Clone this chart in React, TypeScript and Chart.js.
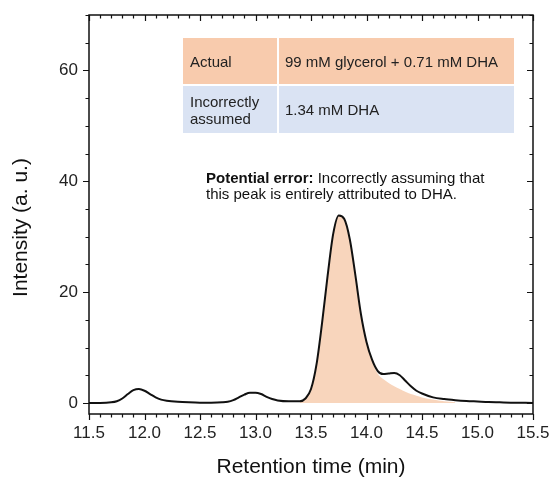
import React, { useEffect, useRef } from "react";
import { Chart, registerables } from "chart.js";

Chart.register(...registerables);

// Chromatogram (measured signal)
const times: number[] = [
  11.5, 11.6, 11.7, 11.75, 11.8, 11.85, 11.9, 11.95, 12.0, 12.05, 12.1, 12.15, 12.2, 12.3, 12.4, 12.5,
  12.6, 12.7, 12.75, 12.8, 12.85, 12.9, 12.95, 13.0, 13.05, 13.1, 13.15, 13.2, 13.3, 13.4, 13.45, 13.5,
  13.55, 13.6, 13.65, 13.7, 13.75, 13.8, 13.85, 13.9, 13.95, 14.0, 14.05, 14.1, 14.15, 14.2, 14.25, 14.3,
  14.35, 14.4, 14.45, 14.5, 14.6, 14.7, 14.8, 14.9, 15.0, 15.1, 15.2, 15.3, 15.5,
];
const intensity: number[] = [
  0.0, 0.0, 0.1, 0.3, 0.8, 1.6, 2.3, 2.5, 2.2, 1.6, 1.0, 0.6, 0.4, 0.2, 0.1, 0.05,
  0.05, 0.1, 0.2, 0.5, 1.0, 1.5, 1.85, 1.85, 1.6, 1.1, 0.7, 0.45, 0.3, 0.3, 0.8, 2.5,
  7.0, 14.5, 23.0, 30.5, 33.8, 33.2, 29.5, 23.0, 16.0, 11.0, 7.8, 5.8, 5.2, 5.3, 5.4, 5.0,
  4.0, 3.0, 2.2, 1.7, 1.0, 0.7, 0.5, 0.35, 0.25, 0.15, 0.1, 0.05, 0.0,
];

// Shaded DHA-only peak
const dhaTimes: number[] = [
  13.4, 13.45, 13.5, 13.55, 13.6, 13.65, 13.7, 13.75, 13.8, 13.85, 13.9, 13.95, 14.0, 14.05, 14.1,
  14.15, 14.2, 14.25, 14.3, 14.35, 14.4, 14.45, 14.5, 14.6, 14.7, 14.8,
];
const dhaIntensity: number[] = [
  0.3, 0.8, 2.5, 7.0, 14.5, 23.0, 30.5, 33.8, 33.2, 29.5, 23.0, 16.0, 11.0, 7.6, 5.3,
  4.3, 3.6, 3.0, 2.5, 2.0, 1.6, 1.3, 1.0, 0.6, 0.3, 0.1,
];

const yTickValues: number[] = [0, 20, 40, 60];
const xRange: number[] = [11.5, 15.5];
const yRange: number[] = [-2, 70];
const xMinorStep = 0.1;
const xMajorStep = 0.5;
const yMinorStep = 5;
const yMajorStep = 20;
const yTitle = "Intensity (a. u.)";
const xTitle = "Retention time (min)";

const FONT = "'Liberation Sans', Arial, sans-serif";

const frameTicks = {
  id: "frameTicks",
  afterDraw(chart: any) {
    const { ctx, chartArea: a, scales } = chart;
    const x = scales.x;
    const y = scales.y;
    ctx.save();
    ctx.strokeStyle = "#111";
    ctx.lineWidth = 1.5;
    ctx.strokeRect(a.left, a.top, a.right - a.left, a.bottom - a.top);
    ctx.lineWidth = 1.2;
    ctx.beginPath();
    const nx = Math.round((xRange[1] - xRange[0]) / xMinorStep);
    for (let i = 0; i <= nx; i++) {
      const v = xRange[0] + i * xMinorStep;
      const major = i % Math.round(xMajorStep / xMinorStep) === 0;
      const len = major ? 6 : 3.5;
      const px = Math.round(x.getPixelForValue(v)) + 0.5;
      ctx.moveTo(px, a.bottom);
      ctx.lineTo(px, a.bottom + len);
      ctx.moveTo(px, a.top);
      ctx.lineTo(px, a.top + len);
    }
    for (let v = 0; v <= yRange[1]; v += yMinorStep) {
      const major = v % yMajorStep === 0;
      const len = major ? 6 : 3.5;
      const py = Math.round(y.getPixelForValue(v)) + 0.5;
      ctx.moveTo(a.left - len, py);
      ctx.lineTo(a.left, py);
      ctx.moveTo(a.right - len, py);
      ctx.lineTo(a.right, py);
    }
    ctx.stroke();

    // y-axis title (slightly below the axis centre, as in the figure)
    ctx.translate(21, (a.top + a.bottom) / 2 + 13);
    ctx.rotate(-Math.PI / 2);
    ctx.fillStyle = "#111";
    ctx.font = `21px ${FONT}`;
    ctx.textAlign = "center";
    ctx.textBaseline = "middle";
    ctx.fillText(yTitle, 0, 0);
    ctx.restore();
  },
};

export default function App() {
  const ref = useRef<HTMLCanvasElement | null>(null);

  useEffect(() => {
    if (!ref.current) return;
    const chart = new Chart(ref.current, {
      type: "line",
      data: {
        datasets: [
          {
            label: "Signal",
            data: times.map((t, i) => ({ x: t, y: intensity[i] })),
            borderColor: "#111",
            borderWidth: 2,
            pointRadius: 0,
            fill: false,
            cubicInterpolationMode: "monotone",
          },
          {
            label: "DHA",
            data: dhaTimes.map((t, i) => ({ x: t, y: dhaIntensity[i] })),
            borderWidth: 0,
            borderColor: "rgba(0,0,0,0)",
            backgroundColor: "#f8d5bc",
            pointRadius: 0,
            fill: "origin",
            cubicInterpolationMode: "monotone",
          },
        ],
      },
      options: {
        animation: false,
        responsive: false,
        layout: { padding: { top: 15, right: 16, left: 0, bottom: 0 } },
        plugins: { legend: { display: false }, tooltip: { enabled: false } },
        scales: {
          x: {
            type: "linear",
            min: xRange[0],
            max: xRange[1],
            grid: { display: false, drawTicks: false },
            border: { display: false },
            ticks: {
              stepSize: 0.5,
              padding: 9,
              color: "#222",
              font: { family: FONT, size: 17 },
              maxRotation: 0,
              callback: (v: any) => Number(v).toFixed(1),
            },
            title: {
              display: true,
              text: xTitle,
              color: "#111",
              font: { family: FONT, size: 21 },
              padding: { top: 0, bottom: 4 },
            },
            afterFit: (s: any) => {
              s.height = 70;
              s.paddingLeft = 0;
              s.paddingRight = 0;
            },
          },
          y: {
            min: yRange[0],
            max: yRange[1],
            grid: { display: false, drawTicks: false },
            border: { display: false },
            afterBuildTicks: (s: any) => {
              s.ticks = yTickValues.map((v) => ({ value: v }));
            },
            ticks: {
              padding: 11,
              color: "#222",
              font: { family: FONT, size: 17 },
            },
            title: { display: false },
            afterFit: (s: any) => {
              s.width = 89;
              s.paddingTop = 0;
              s.paddingBottom = 0;
            },
          },
        },
      },
      plugins: [frameTicks],
    } as any);
    return () => chart.destroy();
  }, []);

  const cell: React.CSSProperties = {
    display: "flex",
    alignItems: "center",
    fontFamily: FONT,
    fontSize: 15,
    color: "#222",
    lineHeight: "17px",
  };

  return (
    <div style={{ position: "absolute", left: 0, top: 0, width: 549, height: 484, background: "#fff" }}>
      <canvas ref={ref} width={549} height={484} style={{ display: "block" }} />
      <div
        style={{
          position: "absolute",
          left: 183,
          top: 38,
          display: "grid",
          gridTemplateColumns: "94px 235px",
          gridTemplateRows: "46px 47px",
          columnGap: 2,
          rowGap: 2,
        }}
      >
        <div style={{ ...cell, background: "#f8cbad", paddingLeft: 7 }}>Actual</div>
        <div style={{ ...cell, background: "#f8cbad", paddingLeft: 6 }}>99 mM glycerol + 0.71 mM DHA</div>
        <div style={{ ...cell, background: "#dae3f3", paddingLeft: 7 }}>
          Incorrectly
          <br />
          assumed
        </div>
        <div style={{ ...cell, background: "#dae3f3", paddingLeft: 6 }}>1.34 mM DHA</div>
      </div>
      <div
        style={{
          position: "absolute",
          left: 206,
          top: 170,
          fontFamily: FONT,
          fontSize: 15,
          lineHeight: "16px",
          color: "#111",
          whiteSpace: "nowrap",
        }}
      >
        <b>Potential error:</b> Incorrectly assuming that
        <br />
        this peak is entirely attributed to DHA.
      </div>
    </div>
  );
}
